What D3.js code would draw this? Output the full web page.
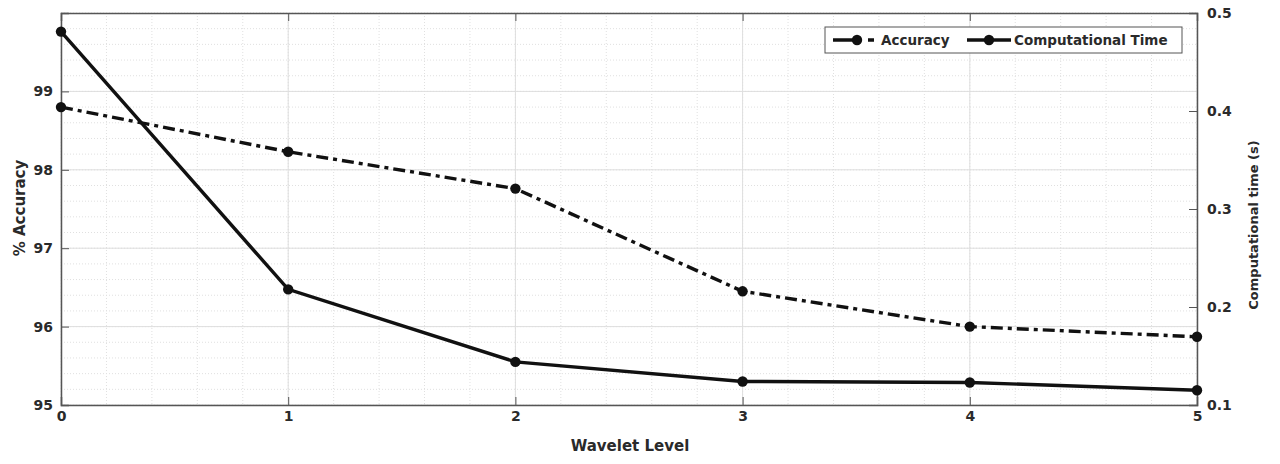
<!DOCTYPE html>
<html>
<head>
<meta charset="utf-8">
<script src="https://cdn.jsdelivr.net/npm/d3@7.9.0/dist/d3.min.js"></script>
<style>
  body { margin: 0; background: #fff; }
  text { font-family: "DejaVu Sans", "Liberation Sans", Arial, sans-serif; font-weight: bold; fill: #2a2a2a; }
</style>
</head>
<body>
<svg id="chart" width="1280" height="464"></svg>
<script>
// data
const levels = [0, 1, 2, 3, 4, 5];
const accuracy = [98.80, 98.23, 97.76, 96.45, 96.0, 95.87];
const compTime = [0.481, 0.218, 0.144, 0.124, 0.123, 0.115];
const leftTicks = [95, 96, 97, 98, 99];
const rightTicks = [0.1, 0.2, 0.3, 0.4, 0.5];
const legendLabels = ['Accuracy', 'Computational Time'];

const svg = d3.select('#chart');
const m = { left: 61, right: 1197, top: 13, bottom: 405 };

const x = d3.scaleLinear().domain([0, 5]).range([m.left, m.right]);
const yL = d3.scaleLinear().domain([95, 100]).range([m.bottom, m.top]);
const yR = d3.scaleLinear().domain([0.1, 0.5]).range([m.bottom, m.top]);

// minor grid (dotted)
const g = svg.append('g');
d3.range(0, 5.01, 0.2).forEach(v => {
  g.append('line').attr('x1', x(v)).attr('x2', x(v)).attr('y1', m.top).attr('y2', m.bottom)
    .attr('stroke', '#e0e0e0').attr('stroke-dasharray', '1,2');
});
d3.range(95, 100.01, 0.2).forEach(v => {
  g.append('line').attr('x1', m.left).attr('x2', m.right).attr('y1', yL(v)).attr('y2', yL(v))
    .attr('stroke', '#e0e0e0').attr('stroke-dasharray', '1,2');
});
// major grid
levels.forEach(v => {
  g.append('line').attr('x1', x(v)).attr('x2', x(v)).attr('y1', m.top).attr('y2', m.bottom)
    .attr('stroke', '#dedede');
});
leftTicks.forEach(v => {
  g.append('line').attr('x1', m.left).attr('x2', m.right).attr('y1', yL(v)).attr('y2', yL(v))
    .attr('stroke', '#dedede');
});

// axes (MATLAB style, ticks inward)
const tk = 8;
svg.append('g').attr('transform', `translate(0,${m.bottom})`)
  .call(d3.axisBottom(x).tickValues(levels).tickSize(-tk).tickPadding(6).tickFormat(d3.format('d')))
  .call(a => a.selectAll('text').attr('font-size', 14));
svg.append('g').attr('transform', `translate(0,${m.top})`)
  .call(d3.axisTop(x).tickValues(levels).tickSize(-tk).tickFormat(''));
svg.append('g').attr('transform', `translate(${m.left},0)`)
  .call(d3.axisLeft(yL).tickValues(leftTicks).tickSize(-tk).tickPadding(8).tickFormat(d3.format('d')))
  .call(a => a.selectAll('text').attr('font-size', 14));
svg.append('g').attr('transform', `translate(${m.right},0)`)
  .call(d3.axisRight(yR).tickValues(rightTicks).tickSize(-tk).tickPadding(10).tickFormat(d3.format('.1f')))
  .call(a => a.selectAll('text').attr('font-size', 14));
svg.selectAll('.domain').attr('stroke', '#555').attr('stroke-width', 1.5);
svg.selectAll('.tick line').attr('stroke', '#555');
svg.selectAll('.tick text').attr('fill', '#2a2a2a');

// axis labels
svg.append('text').attr('x', 630).attr('y', 451).attr('text-anchor', 'middle')
  .attr('font-size', 15).text('Wavelet Level');
svg.append('text').attr('transform', 'translate(25,208) rotate(-90)').attr('text-anchor', 'middle')
  .attr('font-size', 15).text('% Accuracy');
svg.append('text').attr('transform', 'translate(1258,225) rotate(-90)').attr('text-anchor', 'middle')
  .attr('font-size', 13).text('Computational time (s)');

// series
const dashDot = '12,5,4,5';
const lineL = d3.line().x((d, i) => x(levels[i])).y(d => yL(d));
const lineR = d3.line().x((d, i) => x(levels[i])).y(d => yR(d));

svg.append('path').datum(accuracy).attr('d', lineL).attr('fill', 'none')
  .attr('stroke', '#111').attr('stroke-width', 3.4).attr('stroke-dasharray', dashDot);
svg.append('path').datum(compTime).attr('d', lineR).attr('fill', 'none')
  .attr('stroke', '#111').attr('stroke-width', 3.4);

svg.selectAll('.mA').data(accuracy).join('circle')
  .attr('cx', (d, i) => x(levels[i])).attr('cy', d => yL(d)).attr('r', 5.2).attr('fill', '#111');
svg.selectAll('.mT').data(compTime).join('circle')
  .attr('cx', (d, i) => x(levels[i])).attr('cy', d => yR(d)).attr('r', 5.2).attr('fill', '#111');

// legend
const lg = svg.append('g');
lg.append('rect').attr('x', 825).attr('y', 27).attr('width', 357).attr('height', 26)
  .attr('fill', '#fff').attr('stroke', '#555').attr('stroke-width', 1);
const items = [
  { x0: 833, x1: 876, mx: 857, tx: 881, dash: '24,11,6,20' },
  { x0: 967, x1: 1011, mx: 989, tx: 1014, dash: null }
];
items.forEach((it, i) => {
  lg.append('line').attr('x1', it.x0).attr('x2', it.x1).attr('y1', 40).attr('y2', 40)
    .attr('stroke', '#111').attr('stroke-width', 3.4).attr('stroke-dasharray', it.dash);
  lg.append('circle').attr('cx', it.mx).attr('cy', 40).attr('r', 5.2).attr('fill', '#111');
  lg.append('text').attr('x', it.tx).attr('y', 45).attr('font-size', 13.5).text(legendLabels[i]);
});
</script>
</body>
</html>
